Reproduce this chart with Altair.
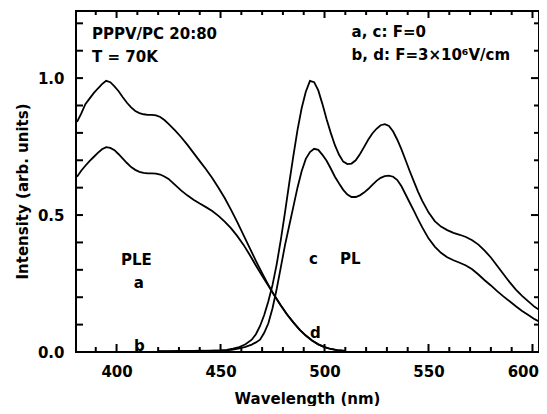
import altair as alt
import pandas as pd

# ---------------- data ----------------
ple_wl = [381, 383, 385, 387, 389, 391, 393, 395, 397, 399, 401, 403, 405, 407, 409, 411,
          413, 415, 417, 419, 421, 423, 425, 428, 431, 434, 437, 440, 443, 446, 449, 452,
          455, 458, 461, 464, 467, 470, 473, 476, 479, 482, 485, 488, 491, 494, 497, 500,
          503, 506, 510]
ple_a = [0.84, 0.87, 0.905, 0.925, 0.945, 0.962, 0.978, 0.99, 0.985, 0.97, 0.952, 0.93,
         0.91, 0.893, 0.88, 0.872, 0.868, 0.866, 0.866, 0.864, 0.858, 0.847, 0.833, 0.81,
         0.785, 0.757, 0.727, 0.697, 0.667, 0.635, 0.600, 0.562, 0.520, 0.475, 0.428, 0.38,
         0.333, 0.288, 0.245, 0.205, 0.17, 0.137, 0.108, 0.082, 0.06, 0.042, 0.028, 0.018,
         0.011, 0.007, 0.004]
ple_b = [0.64, 0.662, 0.68, 0.697, 0.712, 0.727, 0.74, 0.748, 0.745, 0.737, 0.722, 0.706,
         0.69, 0.675, 0.665, 0.658, 0.654, 0.652, 0.652, 0.651, 0.648, 0.641, 0.632, 0.611,
         0.59, 0.572, 0.556, 0.542, 0.529, 0.515, 0.497, 0.476, 0.452, 0.424, 0.392, 0.355,
         0.316, 0.278, 0.242, 0.205, 0.17, 0.137, 0.108, 0.082, 0.06, 0.042, 0.028, 0.018,
         0.011, 0.007, 0.004]

pl_wl = [420, 425, 430, 435, 440, 445, 450, 453, 456, 459, 462, 465, 467, 469, 471, 473,
         475, 477, 479, 481, 483, 485, 487, 489, 491, 493, 495, 497, 499, 501, 503, 505,
         507, 509, 511, 513, 515, 517, 519, 521, 523, 525, 527, 529, 531, 533, 535, 537,
         539, 541, 543, 545, 547, 550, 553, 556, 559, 562, 565, 568, 571, 574, 577, 580,
         583, 586, 589, 592, 595, 598, 601, 604, 607]
pl_c = [0.003, 0.002, 0.004, 0.003, 0.005, 0.004, 0.006, 0.008, 0.012, 0.018, 0.028, 0.045,
        0.065, 0.095, 0.135, 0.185, 0.245, 0.32, 0.41, 0.51, 0.615, 0.715, 0.81, 0.89, 0.95,
        0.99, 0.985, 0.955, 0.905, 0.85, 0.8, 0.755, 0.72, 0.695, 0.686, 0.688, 0.7, 0.722,
        0.748, 0.775, 0.798, 0.815, 0.828, 0.832, 0.825, 0.805, 0.775, 0.74, 0.7, 0.66,
        0.622, 0.585, 0.552, 0.51, 0.478, 0.458, 0.445, 0.435, 0.428, 0.42, 0.408, 0.392,
        0.37, 0.345, 0.315, 0.285, 0.255, 0.228, 0.205, 0.185, 0.165, 0.15, 0.14]
pl_d = [0.002, 0.003, 0.002, 0.004, 0.003, 0.005, 0.005, 0.006, 0.009, 0.013, 0.019, 0.027,
        0.035, 0.045, 0.07, 0.105, 0.16, 0.23, 0.31, 0.39, 0.46, 0.53, 0.6, 0.66, 0.705,
        0.73, 0.742, 0.738, 0.72, 0.698, 0.67, 0.64, 0.615, 0.592, 0.575, 0.566, 0.566,
        0.572, 0.582, 0.595, 0.61, 0.625, 0.636, 0.642, 0.644, 0.64, 0.628, 0.605, 0.575,
        0.545, 0.515, 0.484, 0.455, 0.415, 0.385, 0.362, 0.346, 0.335, 0.326, 0.316, 0.302,
        0.283, 0.262, 0.243, 0.222, 0.203, 0.185, 0.167, 0.15, 0.135, 0.12, 0.108, 0.098]

x_tick_values = list(range(390, 601, 10))
x_major_values = [400, 450, 500, 550, 600]
y_tick_values = [0.1, 0.2, 0.3, 0.4, 0.5, 0.6, 0.7, 0.8, 0.9, 1.0, 1.1, 1.2]
y_major_values = [0.5, 1.0]
y_label_values = [0.0, 0.5, 1.0]

ann_text = ["PPPV/PC 20:80", "T = 70K", "a, c: F=0", "b, d: F=3×10⁶V/cm",
            "PLE", "a", "b", "c", "PL", "d"]
ann_x = [388.2, 388.2, 513.0, 513.0, 402.1, 408.3, 408.4, 492.5, 507.4, 493.0]
ann_y = [1.143, 1.059, 1.150, 1.066, 0.318, 0.234, 0.004, 0.321, 0.321, 0.051]

# ---------------- chart ----------------
FONT = "DejaVu Sans"
W, H = 463, 341
PX_PER_NM = 470 / 226.0
X_DOM = [380.5, 380.5 + W / PX_PER_NM]
Y_DOM = [0.0, 1.245]
XU = 1.0 / PX_PER_NM                    # nm per pixel
YU = (Y_DOM[1] - Y_DOM[0]) / H          # intensity per pixel
xscale = alt.Scale(domain=X_DOM, nice=False, zero=False)
yscale = alt.Scale(domain=Y_DOM, nice=False, zero=False)

xaxis = alt.Axis(values=x_major_values, format="d", ticks=False, domain=False,
                 grid=False, labelFont=FONT, labelFontSize=15,
                 labelFontWeight="bold", labelColor="black", labelPadding=12,
                 labelFlush=10, labelFlushOffset=6, labelOverlap=False,
                 title="Wavelength (nm)", titleFont=FONT, titleFontSize=15,
                 titleFontWeight="bold", titleColor="black", titlePadding=12,
                 titleX=231)
yaxis = alt.Axis(values=y_label_values, format=".1f", ticks=False, domain=False,
                 grid=False, labelFont=FONT, labelFontSize=15,
                 labelFontWeight="bold", labelColor="black", labelPadding=12,
                 labelFlush=False, labelOverlap=False,
                 title="Intensity (arb. units)", titleFont=FONT, titleFontSize=15,
                 titleFontWeight="bold", titleColor="black", titlePadding=7,
                 titleY=180)

frames = []
for name, wl, vals in [("a", ple_wl, ple_a), ("b", ple_wl, ple_b),
                       ("c", pl_wl, pl_c), ("d", pl_wl, pl_d)]:
    frames.append(pd.DataFrame({"wl": wl, "val": vals, "curve": name}))
df_lines = pd.concat(frames, ignore_index=True)

lines = alt.Chart(df_lines).mark_line(color="black", strokeWidth=1.8, clip=True).encode(
    x=alt.X("wl:Q", scale=xscale, axis=xaxis),
    y=alt.Y("val:Q", scale=yscale, axis=yaxis),
    detail="curve:N",
)

x_minor = [v for v in x_tick_values if v not in x_major_values]
y_minor = [v for v in y_tick_values if v not in y_major_values]

# inward tick segments on the four sides, positioned through the shared scales
xt_rows, yt_rows = [], []


def add_x_ticks(values, base, length):
    for v in values:
        xt_rows.append({"wl": v, "t0": base, "t1": base + length})


def add_y_ticks(values, base, length):
    for v in values:
        yt_rows.append({"val": v, "t0": base, "t1": base + length})


add_x_ticks(x_major_values, Y_DOM[0], 8 * YU)
add_x_ticks(x_minor, Y_DOM[0], 5 * YU)
add_x_ticks(x_major_values, Y_DOM[1], -7 * YU)
add_x_ticks(x_minor, Y_DOM[1], -4 * YU)
add_y_ticks(y_tick_values, X_DOM[0], 7 * XU)
add_y_ticks(y_major_values, X_DOM[1], -8 * XU)
add_y_ticks(y_minor, X_DOM[1], -5 * XU)

xticks = alt.Chart(pd.DataFrame(xt_rows)).mark_rule(color="black", strokeWidth=2).encode(
    x=alt.X("wl:Q", scale=xscale, axis=None),
    y=alt.Y("t0:Q", scale=yscale, axis=None),
    y2="t1:Q",
)
yticks = alt.Chart(pd.DataFrame(yt_rows)).mark_rule(color="black", strokeWidth=2).encode(
    y=alt.Y("val:Q", scale=yscale, axis=None),
    x=alt.X("t0:Q", scale=xscale, axis=None),
    x2="t1:Q",
)

df_ann = pd.DataFrame({"text": ann_text, "x": ann_x, "y": ann_y})
labels = alt.Chart(df_ann).mark_text(
    align="left", baseline="alphabetic", font=FONT, fontSize=15, fontWeight="bold",
    color="black"
).encode(
    x=alt.X("x:Q", scale=xscale, axis=None),
    y=alt.Y("y:Q", scale=yscale, axis=None),
    text="text:N",
)

chart = alt.layer(lines, labels, xticks, yticks).resolve_axis(
    x="independent", y="independent"
).properties(
    width=W, height=H,
    autosize=alt.AutoSizeParams(type="none"),
    padding={"left": 68, "top": 3, "right": 0, "bottom": 54},
    background="white",
).configure_view(stroke="black", strokeWidth=2)

chart.save("out.html", embed_options={"renderer": "svg", "actions": False})
